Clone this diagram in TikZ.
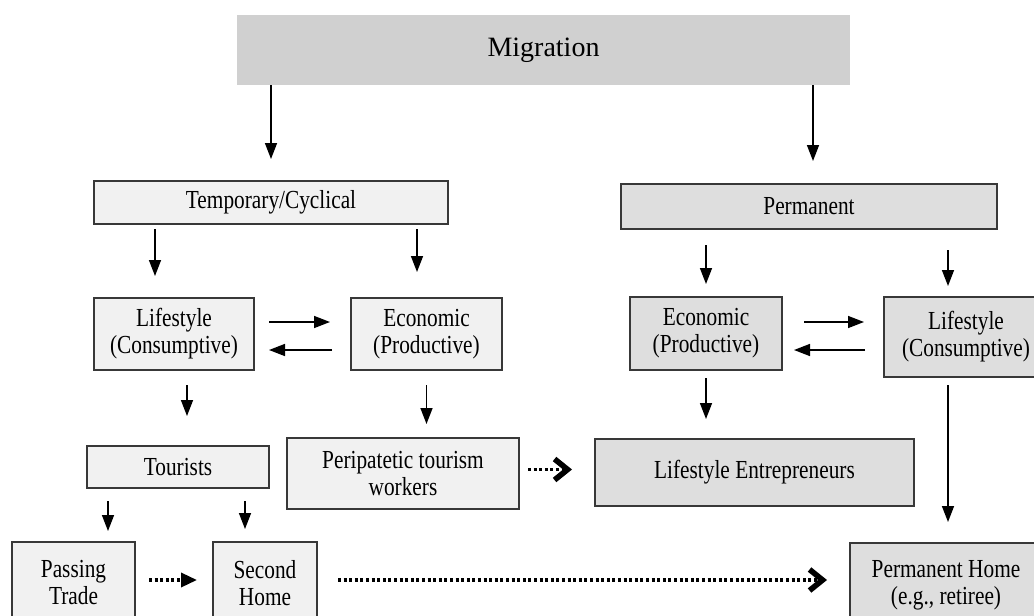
\documentclass[tikz,border=0pt]{standalone}
\usepackage{fontspec}
\setmainfont{Liberation Serif}
\newfontfamily\boxfont[FakeStretch=0.82]{Liberation Serif}
\usepackage{xcolor}
\usepackage{tikz}
\usetikzlibrary{arrows.meta}
\definecolor{boxlight}{gray}{0.945}
\definecolor{boxdark}{gray}{0.87}
\definecolor{migfill}{gray}{0.815}
\definecolor{edgegray}{gray}{0.22}
\tikzset{
  box/.style={draw=edgegray,line width=1pt,inner sep=0pt,align=center,text=black,
    font=\boxfont\fontsize{13pt}{13.5pt}\selectfont},
  boxL/.style={box,fill=boxlight},
  boxD/.style={box,fill=boxdark},
  arr/.style={-{Triangle[length=8pt,width=6pt]},line width=0.75pt},
  dotln/.style={line width=1.7pt,dash pattern=on 1.5pt off 1.3pt},
  dotarr/.style={dotln,-{Triangle[length=8pt,width=7pt]}},
  chevarr/.style={dotln,-{Straight Barb[length=6.5pt,width=10.5pt,line width=2.8pt]}},
}
\begin{document}
\begin{tikzpicture}[x=0.5pt,y=-0.5pt]
        \useasboundingbox (0,0) rectangle (1034,616);
        % top
        \node[fill=migfill,minimum width=306.5pt,minimum height=35pt,inner sep=0pt,text=black,
          font=\fontsize{14pt}{16pt}\selectfont] (mig) at (543.5,50) {Migration};
        \node[boxL,minimum width=177pt,minimum height=21.5pt] (temp) at (271,202.5) {Temporary/Cyclical};
        \node[boxD,minimum width=188pt,minimum height=22.5pt] (perm) at (809,206.5) {Permanent};
        % second row
        \node[boxL,minimum width=80pt,minimum height=36pt] (lcL) at (174,334) {Lifestyle\\(Consumptive)};
        \node[boxL,minimum width=75.5pt,minimum height=36pt] (ecL) at (426.5,334) {Economic\\(Productive)};
        \node[boxD,minimum width=76pt,minimum height=36.5pt] (ecR) at (706,333.5) {Economic\\(Productive)};
        \node[boxD,minimum width=82pt,minimum height=40pt] (lcR) at (966,337) {Lifestyle\\(Consumptive)};
        % third row
        \node[boxL,minimum width=91pt,minimum height=21pt] (tour) at (178,467) {Tourists};
        \node[boxL,minimum width=116pt,minimum height=35.5pt] (peri) at (403,473.5) {Peripatetic tourism\\workers};
        \node[boxD,minimum width=159.5pt,minimum height=33.5pt] (entre) at (754.5,472.5) {Lifestyle Entrepreneurs};
        % bottom row (cut by the page edge)
        \node[boxL,minimum width=61.5pt,minimum height=41pt] (pass) at (73.5,583) {Passing\\Trade};
        \node[boxL,minimum width=52pt,minimum height=41pt] (second) at (265,583) {Second\\Home};
        \node[boxD,minimum width=96pt,minimum height=42pt] (home) at (946,585) {Permanent Home\\(e.g., retiree)};
        % Migration splits
        \draw[arr,shorten >=10.5pt] (temp.north |- mig.south) -- (temp.north);
        \draw[arr,shorten >=11pt] ([xshift=2pt]perm.north |- mig.south) -- ([xshift=2pt]perm.north);
        % second level
        \draw[arr,shorten <=2pt,shorten >=10.5pt] ([xshift=-9.5pt]lcL.north |- temp.south) -- ([xshift=-9.5pt]lcL.north);
        \draw[arr,shorten <=2pt,shorten >=12.5pt] ([xshift=-4.75pt]ecL.north |- temp.south) -- ([xshift=-4.75pt]ecL.north);
        \draw[arr,shorten <=7.5pt,shorten >=6pt] (ecR.north |- perm.south) -- (ecR.north);
        \draw[arr,shorten <=10pt,shorten >=5pt] ([xshift=-9pt]lcR.north |- perm.south) -- ([xshift=-9pt]lcR.north);
        % back and forth
        \draw[arr,shorten <=7pt,shorten >=10pt] ([yshift=6pt]lcL.east) -- ([yshift=6pt]lcL.east -| ecL.west);
        \draw[arr,shorten <=9pt,shorten >=7pt] ([yshift=-8pt]ecL.west) -- ([yshift=-8pt]ecL.west -| lcL.east);
        \draw[arr,shorten <=10.5pt,shorten >=9.5pt] ([yshift=5.75pt]ecR.east) -- ([yshift=5.75pt]ecR.east -| lcR.west);
        \draw[arr,shorten <=9pt,shorten >=5.5pt] ([yshift=-8.25pt]ecR.east -| lcR.west) -- ([yshift=-8.25pt]ecR.east);
        % third level
        \draw[arr,shorten <=7pt,shorten >=14.5pt] ([xshift=6.5pt]lcL.south) -- ([xshift=6.5pt]lcL.south |- tour.north);
        \draw[arr,shorten <=7pt,shorten >=6.5pt] (ecL.south) -- (ecL.south |- peri.north);
        \draw[arr,shorten <=3.5pt,shorten >=9.5pt] (ecR.south) -- (ecR.south |- entre.north);
        \draw[arr,shorten <=3.5pt,shorten >=10pt] ([xshift=-9pt]lcR.south) -- ([xshift=-9pt]lcR.south |- home.north);
        % tourists
        \draw[arr,shorten <=6pt,shorten >=5pt] ([xshift=-35pt]tour.south) -- ([xshift=-35pt]tour.south |- pass.north);
        \draw[arr,shorten <=6pt,shorten >=6pt] ([xshift=33.5pt]tour.south) -- ([xshift=33.5pt]tour.south |- second.north);
        % dotted moves
        \draw[dotarr,shorten <=6.5pt,shorten >=7.5pt] ([yshift=1.5pt]pass.east) -- ([yshift=1.5pt]pass.east -| second.west);
        \draw[chevarr,shorten <=10pt,shorten >=11pt] ([yshift=1.5pt]second.east) -- ([yshift=1.5pt]second.east -| home.west);
        \draw[chevarr,shorten <=4pt,shorten >=11pt] ([yshift=2pt]peri.east) -- ([yshift=2pt]peri.east -| entre.west);
      \end{tikzpicture}
\end{document}
